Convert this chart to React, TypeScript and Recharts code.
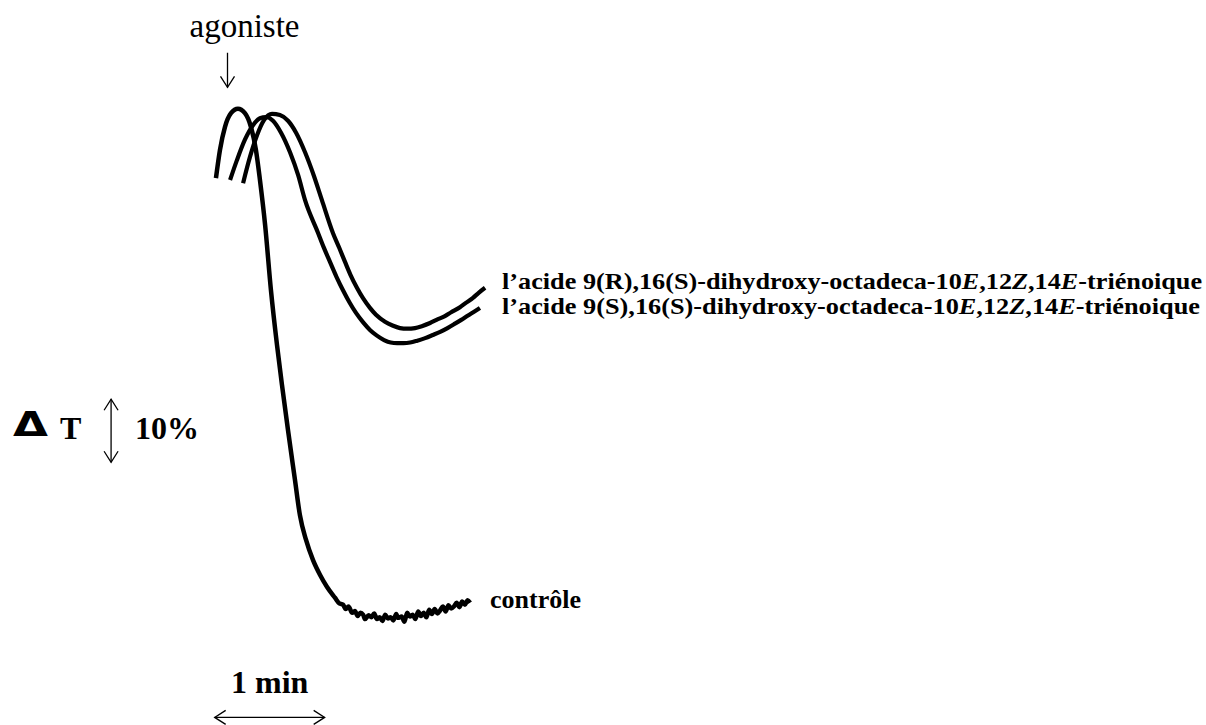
import React from 'react';
import { LineChart, Line, XAxis, YAxis, ReferenceLine, LabelList } from 'recharts';

// time after agonist (s) and light transmission (%)
const controleSec = [
  -6.3, -4.1, -1.4, 1.9, 5.7, 9.5, 12.8, 15.5, 17.7, 20.5, 23.7, 27.0, 29.7, 33.0, 36.8, 39.5, 42.8,
  46.6, 50.5, 54.3, 58.6, 61, 63, 64.5, 66, 68, 69.5, 71, 72.5, 74, 75, 77, 78.5, 80, 81.5, 83, 84.5,
  86, 87.5, 89, 90.5, 92, 93, 95, 96.5, 98, 99.5, 101, 102.5, 104, 105.5, 107, 108.5, 110, 111.5, 113,
  114.5, 116, 117.5, 119, 120.5, 122, 123.5, 125, 126.5, 128, 129.5, 131, 132.3,
];
const controleT = [
  77.6, 82.1, 85.7, 87.9, 88.6, 87.9, 85.7, 82.1, 77.3, 70.2, 59.8, 51.1, 44.8, 37.6, 29.7, 24.1, 20.2,
  17.0, 14.6, 12.7, 11.0, 10.1, 9.9, 9.2, 9.6, 8.6, 8.9, 8.1, 8.6, 8.3, 7.6, 8.2, 7.9, 8.5, 7.6, 7.9,
  7.3, 8.3, 7.7, 7.9, 7.4, 8.4, 7.8, 8.0, 7.2, 8.6, 8.0, 8.3, 7.6, 8.8, 8.1, 8.6, 7.9, 9.1, 8.4, 9.2,
  8.5, 9.0, 9.6, 8.8, 9.8, 9.3, 9.6, 10.2, 9.5, 10.4, 9.9, 10.6, 10.2,
];

const acideRSec = [
  8.5, 12.3, 16.1, 19.9, 24.3, 28.6, 33.0, 37.4, 42.3, 47.2, 51.5, 57.5, 61, 64.1, 67, 70.6, 74, 77.7,
  81, 85.9, 90, 94.1, 98, 102.3, 106, 110.5, 114, 118.6, 122, 126.8, 130, 133.9, 137, 140.5,
];
const acideRT = [
  76.8, 81.0, 84.4, 86.8, 87.8, 87.6, 86.7, 84.8, 81.7, 77.9, 74.1, 68.9, 66.5, 64.3, 62.3, 60.2, 58.5,
  57.0, 55.9, 54.8, 54.2, 53.8, 53.7, 53.8, 54.1, 54.6, 55.1, 55.7, 56.3, 57.1, 57.8, 58.6, 59.4, 60.2,
];

const acideSSec = [
  1.4, 5.2, 9.5, 13.9, 17.7, 21.0, 24.8, 29.2, 34.1, 38.5, 42.3, 49.4, 52.5, 55.9, 59.5, 63.0, 66.5,
  70.1, 74, 77.7, 81.5, 85.4, 89, 92.5, 96, 99.6, 103.5, 107.8, 112, 116.0, 120, 124.1, 127.5, 131.2,
  134.5, 137.7,
];
const acideST = [
  77.3, 80.5, 83.7, 86.0, 87.1, 87.3, 86.7, 84.8, 81.7, 78.1, 74.1, 68.9, 66.6, 64.3, 61.9, 59.8, 57.9,
  56.2, 54.7, 53.5, 52.6, 51.9, 51.5, 51.4, 51.4, 51.5, 51.8, 52.2, 52.7, 53.2, 53.8, 54.5, 55.1, 55.8,
  56.4, 57.0,
];

const toPoints = (sec: number[], val: number[]) => sec.map((t, i) => ({ t, v: val[i] }));

const controle = toPoints(controleSec, controleT);
const acideR = toPoints(acideRSec, acideRT);
const acideS = toPoints(acideSSec, acideST);

const serif = "'Liberation Serif', 'Times New Roman', serif";

const acidName = (config: string) => (
  <>
    {`l’acide 9(${config}),16(S)-dihydroxy-octadeca-10`}
    <tspan fontStyle="italic">E</tspan>
    {',12'}
    <tspan fontStyle="italic">Z</tspan>
    {',14'}
    <tspan fontStyle="italic">E</tspan>
    {'-triénoique'}
  </>
);

// label drawn only at the last point of a trace
const endLabel =
  (count: number, dx: number, dy: number, text: React.ReactNode, width?: number) => (p: any) => {
    if (p.index !== count - 1) return <g key={p.index} />;
    const x = p.x ?? p.viewBox?.x;
    const y = p.y ?? p.viewBox?.y;
    return (
      <text
        key={p.index}
        x={x + dx}
        y={y + dy}
        fontFamily={serif}
        fontWeight="bold"
        fontSize={width ? 23 : 26}
        textLength={width}
        lengthAdjust={width ? 'spacingAndGlyphs' : undefined}
        fill="#000"
      >
        {text}
      </text>
    );
  };

const head = (x: number, y: number, dx: number, dy: number, w: number) => {
  // open arrow head pointing along (dx, dy)
  const len = Math.hypot(dx, dy);
  const ux = dx / len;
  const uy = dy / len;
  const bx = x - ux * 11;
  const by = y - uy * 11;
  return `M${bx - uy * w},${by + ux * w} L${x},${y} L${bx + uy * w},${by - ux * w}`;
};

const agonistShape = (p: any) => (
  <g>
    <line x1={p.x1} y1={p.y1} x2={p.x2} y2={p.y2} stroke="#000" strokeWidth={1.3} />
    <path d={head(p.x2, p.y2, 0, 1, 7)} fill="none" stroke="#000" strokeWidth={1.3} />
    <text x={p.x1 + 17} y={p.y1 - 16} textAnchor="middle" fontFamily={serif} fontSize={33} fill="#000">
      agoniste
    </text>
  </g>
);

const deltaTShape = (p: any) => {
  const mid = (p.y1 + p.y2) / 2;
  return (
    <g>
      <line x1={p.x1} y1={p.y1} x2={p.x2} y2={p.y2} stroke="#000" strokeWidth={1.3} />
      <path d={head(p.x1, p.y1, 0, -1, 7)} fill="none" stroke="#000" strokeWidth={1.3} />
      <path d={head(p.x2, p.y2, 0, 1, 7)} fill="none" stroke="#000" strokeWidth={1.3} />
      <text
        x={p.x1 - 98}
        y={mid + 5}
        fontFamily="'DejaVu Sans', sans-serif"
        fontWeight="bold"
        fontSize={34}
        textLength={35}
        lengthAdjust="spacingAndGlyphs"
        fill="#000"
      >
        Δ
      </text>
      <text x={p.x1 - 51} y={mid + 8} fontFamily={serif} fontWeight="bold" fontSize={32} fill="#000">
        T
      </text>
      <text x={p.x1 + 24} y={mid + 8} fontFamily={serif} fontWeight="bold" fontSize={32} fill="#000">
        10%
      </text>
    </g>
  );
};

const minuteShape = (p: any) => (
  <g>
    <line x1={p.x1} y1={p.y1} x2={p.x2} y2={p.y2} stroke="#000" strokeWidth={1.3} />
    <path d={head(p.x1, p.y1, -1, 0, 7)} fill="none" stroke="#000" strokeWidth={1.3} />
    <path d={head(p.x2, p.y2, 1, 0, 7)} fill="none" stroke="#000" strokeWidth={1.3} />
    <text
      x={(p.x1 + p.x2) / 2}
      y={p.y1 - 24}
      textAnchor="middle"
      fontFamily={serif}
      fontWeight="bold"
      fontSize={32}
      fill="#000"
    >
      1 min
    </text>
  </g>
);

export default function App() {
  return (
    <div style={{ position: 'absolute', left: 0, top: 0, width: 1206, height: 725, background: '#fff' }}>
      <LineChart width={1206} height={725} margin={{ top: 37, right: 6.83, bottom: 1.3, left: 7.5 }}>
        <XAxis type="number" dataKey="t" domain={[-120, 530]} hide />
        <YAxis type="number" dataKey="v" domain={[-9, 100]} hide />
        <ReferenceLine segment={[{ x: 0, y: 97.5 }, { x: 0, y: 92 }]} shape={agonistShape} />
        <ReferenceLine segment={[{ x: -63.5, y: 42.5 }, { x: -63.5, y: 32.5 }]} shape={deltaTShape} />
        <ReferenceLine segment={[{ x: -7, y: -8 }, { x: 53, y: -8 }]} shape={minuteShape} />
        <Line
          data={controle}
          dataKey="v"
          type="monotone"
          stroke="#000"
          strokeWidth={4.5}
          dot={false}
          isAnimationActive={false}
        >
          <LabelList dataKey="v" content={endLabel(controle.length, 20, 5, 'contrôle')} />
        </Line>
        <Line
          data={acideS}
          dataKey="v"
          type="monotone"
          stroke="#000"
          strokeWidth={4.2}
          dot={false}
          isAnimationActive={false}
        >
          <LabelList dataKey="v" content={endLabel(acideS.length, 22, 6, acidName('S'), 698)} />
        </Line>
        <Line
          data={acideR}
          dataKey="v"
          type="monotone"
          stroke="#000"
          strokeWidth={4.2}
          dot={false}
          isAnimationActive={false}
        >
          <LabelList dataKey="v" content={endLabel(acideR.length, 17, 1, acidName('R'), 700)} />
        </Line>
      </LineChart>
    </div>
  );
}
